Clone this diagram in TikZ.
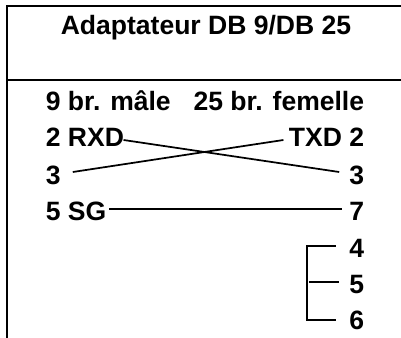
\documentclass[tikz,border=0pt]{standalone}
\usepackage{fontspec}
\setmainfont{Liberation Sans}
\tikzset{every picture/.style={line width=1.3pt}}
\tikzset{pinlabel/.style={font=\fontsize{19.9pt}{22pt}\selectfont\bfseries,inner sep=0pt,text height=18pt,text depth=0pt}}
\tikzset{framerule/.style={line width=1.6pt}}

\begin{document}
\begin{tikzpicture}[x=0.75pt,y=0.75pt,yscale=-1,xscale=1]
	\useasboundingbox (0,0) rectangle (401,338);

	%Straight Lines [frame]
	\draw [framerule] (401,6) -- (7,6) -- (7,338) ;
	\draw [framerule] (7,80) -- (401,80) ;

	% Text Node
	\node [pinlabel,anchor=base] (title) at (206,35) {Adaptateur DB 9/DB 25};
	% Text Node
	\node [pinlabel,anchor=base west] (male) at (45,111) {9 br. mâle};
	\node [pinlabel,anchor=base east] (femelle) at (365,111) {25 br. femelle};
	% Text Node
	\node [pinlabel,anchor=base west] (rxd) at (45,147) {2 RXD};
	\node [pinlabel,anchor=base east] (txd) at (365,147) {TXD 2};
	% Text Node
	\node [pinlabel,anchor=base west] (leftthree) at (45,185) {3};
	\node [pinlabel,anchor=base east] (rightthree) at (365,185) {3};
	% Text Node
	\node [pinlabel,anchor=base west] (sg) at (45,221) {5 SG};
	\node [pinlabel,anchor=base east] (seven) at (365,221) {7};
	% Text Node
	\node [pinlabel,anchor=base east] (four) at (365,258) {4};
	\node [pinlabel,anchor=base east] (five) at (365,294) {5};
	\node [pinlabel,anchor=base east] (six) at (365,330) {6};

	%Straight Lines [crossed pair]
	\draw ([xshift=-1pt,yshift=3.75pt]rxd.east) -- ([xshift=-7pt,yshift=-0.75pt]rightthree.west) ;
	\draw ([xshift=-3.5pt,yshift=3.75pt]txd.west) -- ([xshift=8.5pt,yshift=-0.75pt]leftthree.east) ;
	%Straight Lines [ground]
	\draw ([xshift=1.5pt]sg.east) -- ([xshift=-5pt]seven.west) ;
	%Straight Lines [bracket]
	\draw ([xshift=-9.5pt]four.west) -| ([xshift=-31pt,yshift=1.5pt]six.west) -- ([xshift=-9.5pt,yshift=1.5pt]six.west) ;
	\draw ([xshift=-7.5pt]five.west) -- ([xshift=-30pt]five.west) ;

\end{tikzpicture}
\end{document}
